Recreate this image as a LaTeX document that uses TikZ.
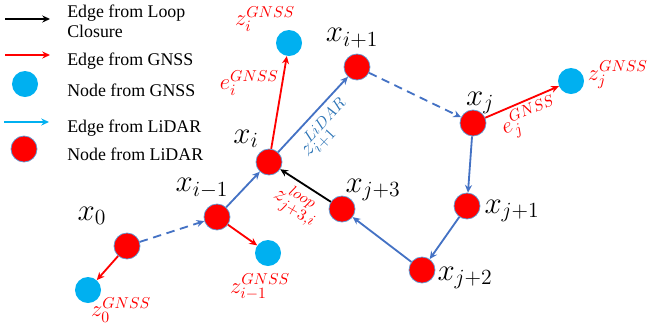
\RequirePackage{fix-cm}
\documentclass[tikz,border=0pt]{standalone}
\usepackage{fontspec}
\setmainfont{Liberation Serif}
\usepackage{xcolor}
\usetikzlibrary{positioning, calc, arrows.meta}

\definecolor{gnssblue}{RGB}{0,176,240}
\definecolor{lidarblue}{RGB}{68,114,196}
\definecolor{lidartext}{RGB}{46,117,182}
\definecolor{nodeedge}{RGB}{91,155,213}

\begin{document}
\begin{tikzpicture}[x=0.025cm, y=-0.025cm, >={Stealth[length=5.5pt,width=5pt]},
    lidarnode/.style={circle, fill=red, draw=nodeedge, line width=0.5pt, minimum size=0.65cm, inner sep=0pt},
    gnssnode/.style={circle, fill=gnssblue, minimum size=0.65cm, inner sep=0pt},
    lidaredge/.style={->, draw=lidarblue, line width=1.3pt},
    gnssedge/.style={->, draw=red, line width=1.3pt},
    loopedge/.style={->, draw=black, line width=1.3pt},
    oddedge/.style={lidaredge, dash pattern=on 6pt off 4pt},
    xlabel/.style={font=\fontsize{22}{26}\selectfont, inner sep=0pt},
    redlabel/.style={text=red, font=\fontsize{16}{19}\selectfont, inner sep=0pt},
    legendtext/.style={anchor=west, font=\fontsize{12.7}{14.5}\selectfont, align=left, inner sep=0pt}]

    \useasboundingbox (0,0) rectangle (649,331);

    % --- Legend ---
    \coordinate (legloopA) at (5,19);   \coordinate (legloopB) at (50,19);
    \coordinate (leggnssA) at (5,55);   \coordinate (leggnssB) at (50,55);
    \coordinate (leglidarA) at (4,122); \coordinate (leglidarB) at (49,122);
    \draw[loopedge] (legloopA) -- (legloopB);
    \draw[gnssedge] (leggnssA) -- (leggnssB);
    \draw[->, draw=gnssblue, line width=1.3pt] (leglidarA) -- (leglidarB);
    \node[gnssnode] (leggnssnode) at (25,84) {};
    \node[lidarnode] (leglidarnode) at (24,149) {};
    \node[legendtext] (txtloop) at (67,21) {Edge from Loop\\Closure};
    \node[legendtext] (txtgnssedge) at (67,61) {Edge from GNSS};
    \node[legendtext] (txtgnssnode) at (67,90) {Node from GNSS};
    \node[legendtext] (txtlidaredge) at (67,128) {Edge from LiDAR};
    \node[legendtext] (txtlidarnode) at (67,154) {Node from LiDAR};

    % --- LiDAR nodes ---
    \node[lidarnode] (x0)  at (127,246) {};
    \node[lidarnode] (xim) at (217,217) {};
    \node[lidarnode] (xi)  at (269,162) {};
    \node[lidarnode] (xip) at (357,67) {};
    \node[lidarnode] (xj)  at (473,123) {};
    \node[lidarnode] (xj1) at (467,206) {};
    \node[lidarnode] (xj2) at (422,270) {};
    \node[lidarnode] (xj3) at (342,209) {};

    % --- GNSS nodes ---
    \node[gnssnode] (z0)  at (88,290) {};
    \node[gnssnode] (zim) at (268,253) {};
    \node[gnssnode] (zi)  at (289,43) {};
    \node[gnssnode] (zj)  at (571,81) {};

    % --- Edges ---
    \draw[oddedge] (x0) -- (xim);
    \draw[lidaredge] (xim) -- (xi);
    \draw[lidaredge] (xi) -- (xip);
    \draw[oddedge] (xip) -- (xj);
    \draw[lidaredge] (xj) -- (xj1);
    \draw[lidaredge] (xj1) -- (xj2);
    \draw[lidaredge] (xj2) -- (xj3);
    \draw[loopedge] (xj3) -- (xi);
    \draw[gnssedge] (x0) -- (z0);
    \draw[gnssedge] (xim) -- (zim);
    \draw[gnssedge] (xi) -- (zi);
    \draw[gnssedge] (xj) -- (zj);

    % --- Node labels ---
    \node[xlabel] (lx0)  at (92,216)  {$x_0$};
    \node[xlabel] (lxim) at (202,188) {$x_{i-1}$};
    \node[xlabel] (lxi)  at (246,139) {$x_i$};
    \node[xlabel] (lxip) at (352,38)  {$x_{i+1}$};
    \node[xlabel] (lxj)  at (480,103) {$x_j$};
    \node[xlabel] (lxj1) at (512,211) {$x_{j+1}$};
    \node[xlabel] (lxj2) at (465,278) {$x_{j+2}$};
    \node[xlabel] (lxj3) at (373,190) {$x_{j+3}$};

    % --- Measurement labels ---
    \node[redlabel] (lz0)  at (121,310) {$z_0^{GNSS}$};
    \node[redlabel] (lzim) at (260,287) {$z_{i-1}^{GNSS}$};
    \node[redlabel] (lzi)  at (265,19)  {$z_i^{GNSS}$};
    \node[redlabel, anchor=east] (lei) at (279,83) {$e_i^{GNSS}$};
    \node[redlabel, anchor=east] (lzj) at (648,75) {$z_j^{GNSS}$};
    \node[redlabel, rotate=23] (lej) at (530,118) {$e_j^{GNSS}$};
    \node[redlabel, rotate=-30] (lloop) at (297,204) {$z_{j+3,i}^{loop}$};
    \node[redlabel, text=lidartext, rotate=47] (llidar) at (326,129) {$z_{i+1}^{LiDAR}$};

\end{tikzpicture}
\end{document}
